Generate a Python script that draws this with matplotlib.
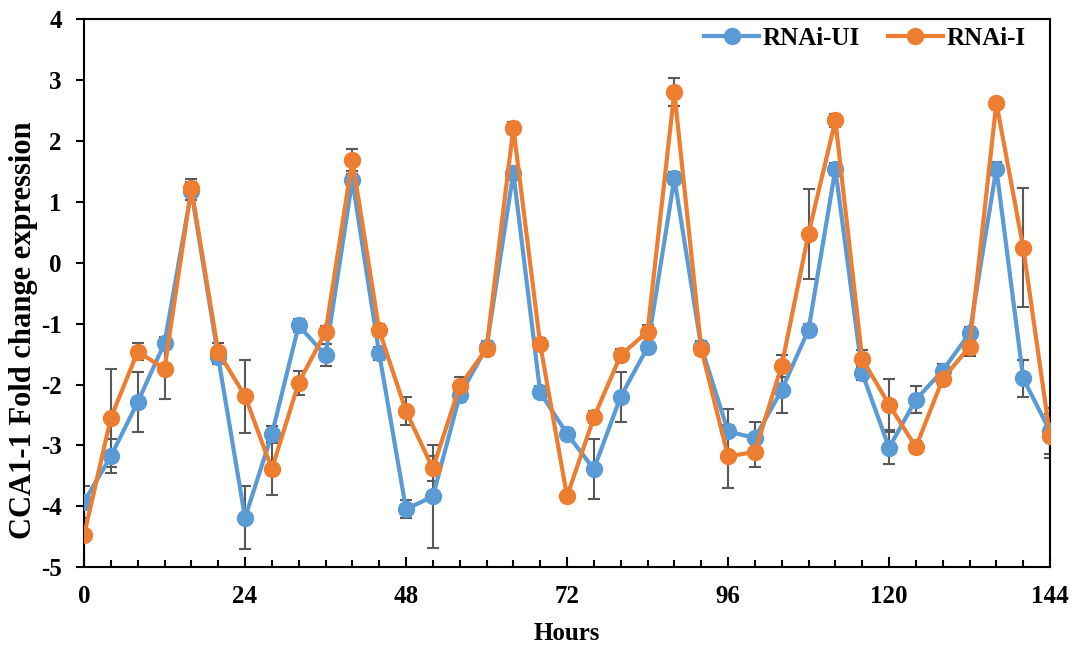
import matplotlib
matplotlib.use('Agg')
import matplotlib.pyplot as plt
import numpy as np

# time points (hours)
hours = list(range(0, 145, 4))

# RNAi-UI (blue)
ui_vals = [-3.93, -3.18, -2.29, -1.32, 1.18, -1.55, -4.19, -2.82, -1.03, -1.52,
           1.36, -1.49, -4.05, -3.84, -2.18, -1.39, 1.48, -2.13, -2.81, -3.39,
           -2.20, -1.39, 1.39, -1.38, -2.77, -2.88, -2.09, -1.10, 1.54, -1.81,
           -3.04, -2.25, -1.77, -1.16, 1.55, -1.90, -2.77]
ui_err = [0.26, 0.28, 0.49, 0.10, 0.15, 0.12, 0.52, 0.13, 0.10, 0.18,
          0.10, 0.10, 0.15, 0.85, 0.10, 0.10, 0.10, 0.10, 0.10, 0.49,
          0.41, 0.08, 0.10, 0.10, 0.37, 0.27, 0.38, 0.10, 0.10, 0.12,
          0.26, 0.22, 0.10, 0.10, 0.10, 0.31, 0.38]

# RNAi-I (orange)
i_vals = [-4.48, -2.55, -1.46, -1.74, 1.23, -1.46, -2.19, -3.39, -1.97, -1.14,
          1.69, -1.11, -2.44, -3.38, -2.03, -1.41, 2.22, -1.34, -3.84, -2.54,
          -1.52, -1.13, 2.81, -1.41, -3.18, -3.11, -1.69, 0.48, 2.34, -1.58,
          -2.33, -3.03, -1.91, -1.38, 2.63, 0.25, -2.85]
i_err = [0.55, 0.80, 0.14, 0.50, 0.14, 0.15, 0.60, 0.43, 0.20, 0.10,
         0.18, 0.10, 0.23, 0.20, 0.15, 0.10, 0.10, 0.10, 0.05, 0.10,
         0.10, 0.10, 0.23, 0.10, 0.52, 0.24, 0.18, 0.74, 0.10, 0.15,
         0.42, 0.10, 0.10, 0.15, 0.05, 0.98, 0.36]

blue = '#5B9BD5'
orange = '#ED7D31'
errc = '#595959'

plt.rcParams['font.family'] = ['Liberation Serif', 'DejaVu Serif']
plt.rcParams['font.weight'] = 'bold'
plt.rcParams['axes.unicode_minus'] = False

fig = plt.figure(figsize=(10.73, 6.45), dpi=100)
ax = fig.add_axes([0.0783, 0.1209, 0.9003, 0.8489])

for vals, err, col, lab in [(ui_vals, ui_err, blue, 'RNAi-UI'),
                            (i_vals, i_err, orange, 'RNAi-I')]:
    ax.errorbar(hours, vals, yerr=err, fmt='none', ecolor=errc, elinewidth=1.5,
                capsize=4.5, capthick=1.5, zorder=2)
    ax.plot(hours, vals, '-o', color=col, lw=3, markersize=11.5, label=lab, zorder=3)

ax.set_xlim(0, 144)
ax.set_ylim(-5, 4)
ax.set_xticks(range(0, 145, 24))
ax.set_xticks(hours, minor=True)
ax.set_yticks(range(-5, 5))
ax.tick_params(axis='x', which='major', direction='in', length=7, width=1.5,
               labelsize=18, pad=13)
ax.tick_params(axis='x', which='minor', direction='in', length=5, width=1.5)
ax.tick_params(axis='y', direction='out', length=6, width=1.5, labelsize=18, pad=10)
for s in ax.spines.values():
    s.set_linewidth(1.5)

ax.set_xlabel('Hours', fontsize=18, fontweight='bold', labelpad=10)
ax.set_ylabel('CCA1-1 Fold change expression', fontsize=22, fontweight='bold')
ax.yaxis.set_label_coords(-0.048, 0.433)

ax.legend(loc='upper right', ncol=2, frameon=False, fontsize=18,
          bbox_to_anchor=(0.998, 1.028), handlelength=2.2, columnspacing=1.1,
          handletextpad=0.15)

fig.savefig('out.png', dpi=100)
